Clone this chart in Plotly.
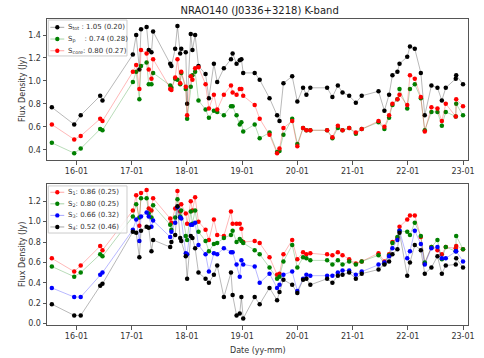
import plotly.graph_objects as go

dates = ["2015-07-22","2015-12-17","2016-01-29","2016-06-06","2016-06-21","2017-01-08","2017-01-30","2017-02-20",
         "2017-03-03","2017-04-09","2017-04-23","2017-05-11","2017-05-22","2017-09-12","2017-09-20","2017-10-15",
         "2017-10-30","2017-11-17","2017-11-24","2017-12-24","2018-01-02","2018-01-26","2018-02-06","2018-02-24",
         "2018-03-18","2018-05-04","2018-05-26","2018-06-28","2018-07-20","2018-09-02","2018-10-19","2018-10-30",
         "2018-11-25","2018-12-16","2018-12-27","2019-01-08","2019-03-25","2019-04-27","2019-07-01","2019-08-20",
         "2019-09-05","2019-10-01","2019-11-28","2020-01-01","2020-02-08","2020-03-01","2020-03-27","2020-07-16",
         "2020-08-20","2020-09-25","2020-10-26","2020-12-09","2021-01-22","2021-03-02","2021-06-21","2021-07-30",
         "2021-08-30","2021-09-21","2021-10-24","2021-11-07","2021-12-28","2022-01-15","2022-02-16","2022-03-28",
         "2022-04-23","2022-06-06","2022-07-16","2022-08-14","2022-09-09","2022-11-14","2022-11-17","2023-01-01"]

# Top panel
s_tot = [0.77,0.62,0.70,0.87,0.83,1.23,1.40,1.10,1.45,1.47,1.27,1.25,1.43,1.15,1.13,1.28,1.48,1.24,1.28,1.25,
         0.80,1.41,1.27,1.40,1.13,1.06,0.85,1.15,0.99,1.11,1.19,1.24,1.15,1.18,1.19,1.07,1.07,1.01,0.85,0.70,
         0.65,0.98,1.04,0.82,0.94,0.88,0.94,0.94,0.86,0.96,0.90,0.87,0.81,0.87,0.91,0.74,0.88,1.05,1.08,1.15,
         1.21,1.30,1.28,1.07,0.70,0.96,0.94,0.83,0.94,1.02,1.05,0.97]
s_p = [0.46,0.37,0.41,0.58,0.57,0.99,1.08,0.84,1.13,1.16,0.97,0.97,1.07,0.96,0.94,1.02,1.01,0.97,1.07,0.93,
       0.67,0.95,1.05,1.08,0.83,0.75,0.68,0.74,0.73,0.70,0.78,0.78,0.70,0.62,0.64,0.56,0.62,0.50,0.55,0.38,
       0.39,0.53,0.67,0.45,0.59,0.57,0.57,0.57,0.50,0.59,0.57,0.59,0.54,0.58,0.64,0.58,0.68,0.79,0.84,0.93,
       0.76,0.93,0.97,0.85,0.57,0.73,0.73,0.61,0.73,0.69,0.80,0.70]
s_core = [0.62,0.49,0.52,0.67,0.65,1.08,1.14,0.93,1.27,1.24,1.10,1.02,1.19,0.93,0.92,1.03,1.19,0.98,1.08,0.95,
          0.70,1.04,1.01,1.11,1.12,0.97,0.76,0.88,0.75,0.88,0.96,0.90,0.88,0.93,0.93,0.87,0.79,0.67,0.53,0.37,
          0.41,0.59,0.65,0.43,0.59,0.57,0.57,0.57,0.51,0.61,0.57,0.59,0.55,0.58,0.65,0.60,0.70,0.80,0.84,0.88,
          0.79,1.05,1.02,0.86,0.56,0.77,0.76,0.65,0.80,0.69,0.84,0.78]

# Bottom panel
s1 = [0.64,0.51,0.57,0.76,0.72,1.11,1.26,0.96,1.28,1.31,1.13,1.11,1.23,1.03,0.99,1.13,1.30,1.10,1.17,1.08,
      0.98,1.20,1.11,1.24,1.00,0.92,0.82,1.02,0.87,0.86,1.10,0.98,0.98,0.98,0.93,0.80,0.81,0.79,0.65,0.48,
      0.49,0.68,0.82,0.63,0.70,0.68,0.69,0.68,0.67,0.70,0.67,0.63,0.59,0.61,0.69,0.61,0.68,0.80,0.84,0.95,
      1.02,1.06,1.06,0.85,0.59,0.75,0.72,0.68,0.75,0.74,0.76,0.73]
s2 = [0.56,0.46,0.50,0.68,0.66,1.05,1.17,1.04,1.23,1.23,1.08,1.04,1.16,0.97,0.92,1.04,1.22,1.05,1.11,0.86,
      0.82,1.10,0.98,1.11,0.90,0.81,0.71,0.78,0.79,0.84,0.87,0.91,0.80,0.83,0.81,0.79,0.72,0.68,0.55,0.44,
      0.46,0.61,0.77,0.55,0.65,0.64,0.62,0.62,0.58,0.62,0.58,0.61,0.58,0.61,0.67,0.59,0.67,0.79,0.85,0.91,
      0.90,0.87,0.99,0.86,0.60,0.75,0.82,0.63,0.75,0.71,0.86,0.73]
s3 = [0.35,0.26,0.26,0.48,0.50,0.92,1.02,0.81,1.05,1.09,1.05,0.95,1.01,0.85,0.90,0.99,1.14,1.04,1.03,0.69,
      0.68,0.97,0.97,0.99,0.77,0.68,0.51,0.69,0.68,0.74,0.70,0.70,0.58,0.46,0.62,0.58,0.56,0.40,0.49,0.35,
      0.38,0.48,0.51,0.32,0.44,0.48,0.47,0.47,0.47,0.50,0.52,0.52,0.48,0.51,0.58,0.60,0.66,0.74,0.82,0.91,
      0.64,0.71,0.91,0.78,0.58,0.74,0.75,0.64,0.64,0.71,0.71,0.61]
s4 = [0.19,0.08,0.08,0.37,0.39,0.90,0.89,0.65,0.91,0.95,0.94,0.71,0.82,0.75,0.80,0.87,1.15,0.84,0.81,0.66,
      0.44,0.86,0.84,0.74,0.50,0.44,0.40,0.48,0.57,0.26,0.50,0.28,0.08,0.10,0.26,0.05,0.26,0.19,0.35,0.23,
      0.31,0.43,0.38,0.30,0.43,0.44,0.38,0.44,0.40,0.47,0.48,0.50,0.44,0.49,0.53,0.58,0.61,0.68,0.73,0.89,
      0.47,0.60,0.77,0.72,0.49,0.55,0.66,0.49,0.57,0.58,0.64,0.55]

top_series = [("S<sub>tot</sub> : 1.05 (0.20)", s_tot, "0,0,0"),
              ("S<sub>p</sub>    : 0.74 (0.28)", s_p, "0,128,0"),
              ("S<sub>core</sub>: 0.80 (0.27)", s_core, "255,0,0")]
bot_series = [("S<sub>1</sub>: 0.86 (0.25)", s1, "255,0,0"),
              ("S<sub>2</sub>: 0.80 (0.25)", s2, "0,128,0"),
              ("S<sub>3</sub>: 0.66 (0.32)", s3, "0,0,255"),
              ("S<sub>4</sub>: 0.52 (0.46)", s4, "0,0,0")]

year_ticks = [f"{y}-01-01" for y in range(2016, 2024)]
FONT = "DejaVu Sans"
fig = go.Figure()

def add_traces(series, xa, ya):
    for name, vals, rgb in series:
        fig.add_trace(go.Scatter(x=dates, y=vals, mode="lines+markers", name=name,
                                 xaxis=xa, yaxis=ya, showlegend=False,
                                 line=dict(color=f"rgba({rgb},0.28)", width=1),
                                 marker=dict(color=f"rgb({rgb})", size=4.5)))

add_traces(top_series, "x", "y")
add_traces(bot_series, "x2", "y2")

axis_common = dict(showgrid=False, zeroline=False, showline=True, mirror=True,
                   linecolor="#555", linewidth=1, ticks="outside", ticklen=3.5,
                   tickcolor="#555", tickfont=dict(family=FONT, size=8, color="#333"))
xr = ["2015-06-20", "2023-02-03"]
fig.update_layout(
    width=484, height=358, margin=dict(l=47, r=9, t=19, b=33),
    paper_bgcolor="white", plot_bgcolor="white",
    font=dict(family=FONT, color="#333"),
    xaxis=dict(domain=[0, 1], anchor="y", range=xr, tickvals=year_ticks, tickformat="%y-%m", **axis_common),
    yaxis=dict(domain=[0.539, 1], anchor="x", range=[0.31, 1.54], tickvals=[0.4, 0.6, 0.8, 1.0, 1.2, 1.4],
               tickformat=".1f", **axis_common),
    xaxis2=dict(domain=[0, 1], anchor="y2", range=xr, tickvals=year_ticks, tickformat="%y-%m", **axis_common),
    yaxis2=dict(domain=[0, 0.461], anchor="x2", range=[-0.014, 1.37],
                tickvals=[0.0, 0.2, 0.4, 0.6, 0.8, 1.0, 1.2], tickformat=".1f", **axis_common),
    title=dict(text="NRAO140 (J0336+3218) K-band", x=0.505, xref="paper", xanchor="center",
               y=1 - 10 / 358, yref="container", yanchor="middle",
               font=dict(family=FONT, size=10, color="#222")),
)

annotations = []
shapes = []
annotations.append(dict(text="Flux Density (Jy)", textangle=-90, xref="paper", yref="paper",
                        x=-0.058, y=(0.539 + 1) / 2, showarrow=False, xanchor="center", yanchor="middle",
                        font=dict(family=FONT, size=8, color="#333")))
annotations.append(dict(text="Flux Density (Jy)", textangle=-90, xref="paper", yref="paper",
                        x=-0.058, y=0.461 / 2, showarrow=False, xanchor="center", yanchor="middle",
                        font=dict(family=FONT, size=8, color="#333")))
annotations.append(dict(text="Date (yy-mm)", xref="paper", yref="paper", x=0.5, y=-0.082,
                        showarrow=False, xanchor="center", yanchor="middle",
                        font=dict(family=FONT, size=8, color="#333")))

def legend(series, xref, yref, box, rows, ph):
    shapes.append(dict(type="rect", xref=xref, yref=yref, x0=0.003, x1=0.19, y0=box[0], y1=box[1],
                       line=dict(color="#cccccc", width=1), fillcolor="rgba(255,255,255,0.85)", layer="above"))
    for (name, vals, rgb), ry in zip(series, rows):
        shapes.append(dict(type="line", xref=xref, yref=yref, x0=0.008, x1=0.041, y0=ry, y1=ry,
                           line=dict(color=f"rgba({rgb},0.35)", width=1), layer="above"))
        rx, rr = 2.2 / 428, 2.2 / ph
        shapes.append(dict(type="circle", xref=xref, yref=yref, x0=0.0245 - rx, x1=0.0245 + rx,
                           y0=ry - rr, y1=ry + rr, fillcolor=f"rgb({rgb})", line=dict(width=0), layer="above"))
        annotations.append(dict(text=name, xref=xref, yref=yref, x=0.046, y=ry, xanchor="left",
                                yanchor="middle", showarrow=False,
                                font=dict(family=FONT, size=7, color="#333")))

legend(top_series, "x domain", "y domain", (0.738, 0.993), [0.941, 0.858, 0.775], 141)
legend(bot_series, "x2 domain", "y2 domain", (0.652, 0.986), [0.941, 0.859, 0.777, 0.695], 141)

fig.update_layout(annotations=annotations, shapes=shapes)
fig.write_html("out.html", config={"displayModeBar": False},
               post_script="document.body.style.margin='0';document.body.style.padding='0';")
